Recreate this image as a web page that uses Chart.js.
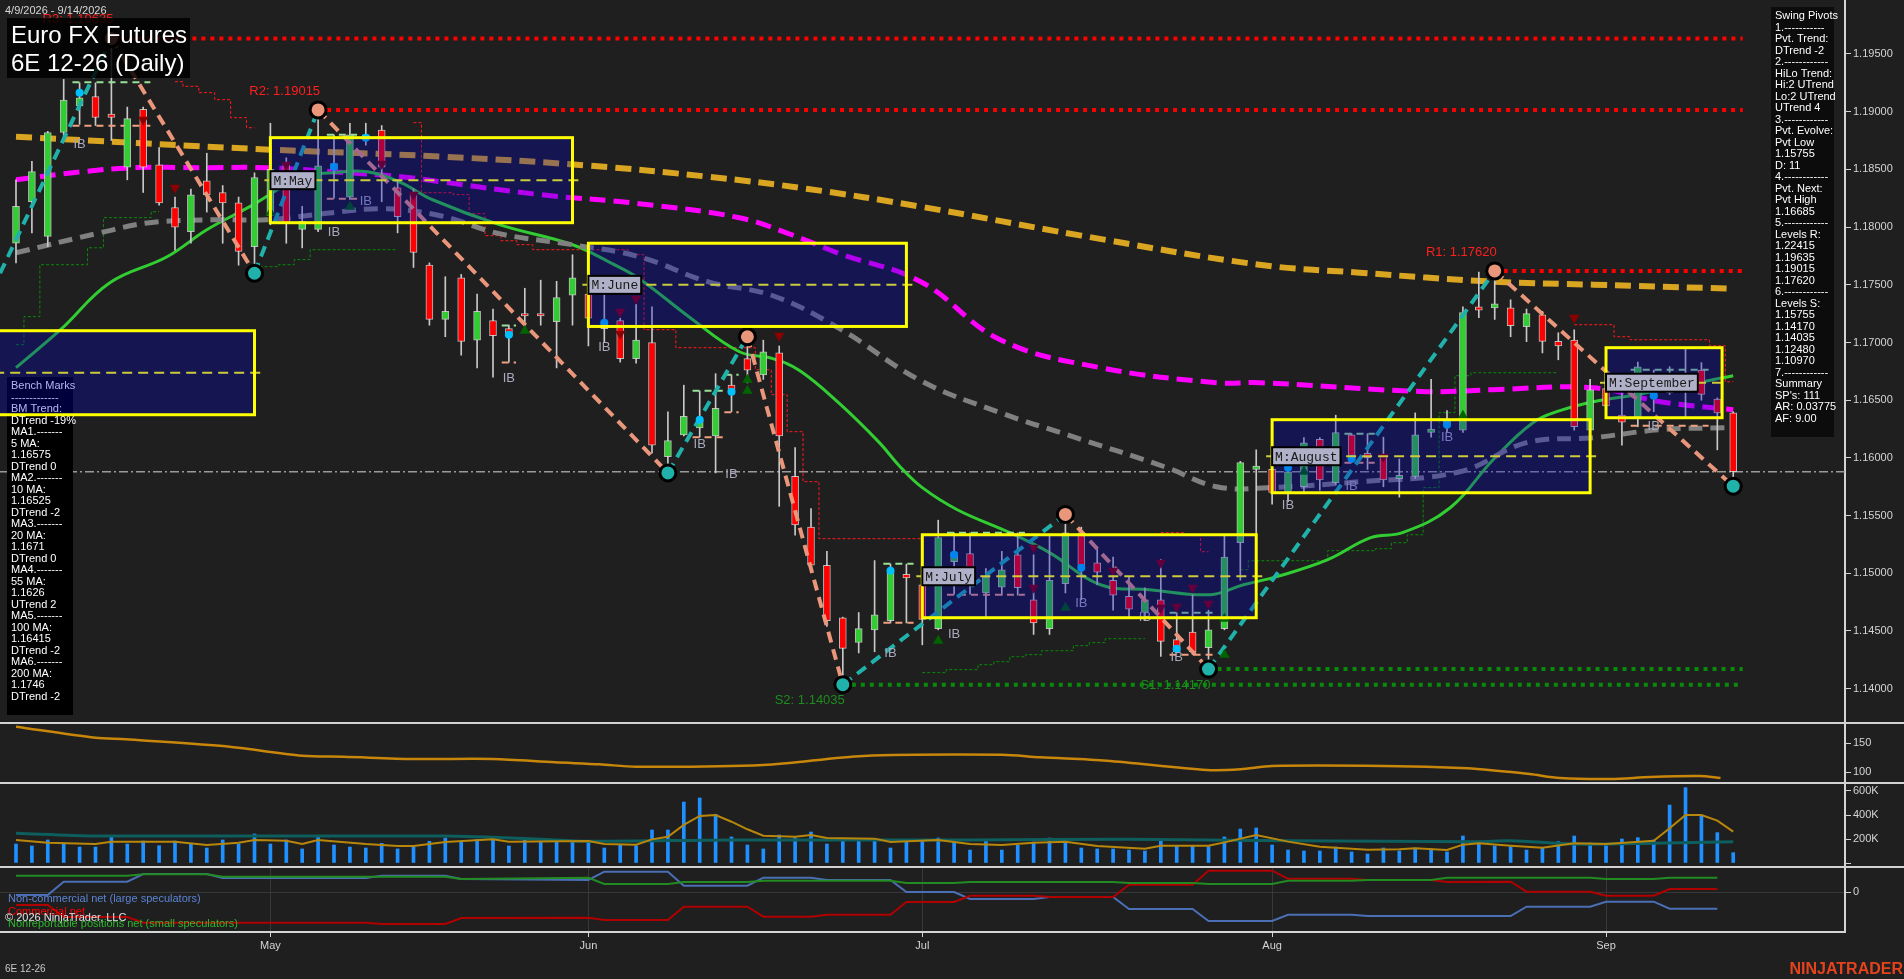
<!DOCTYPE html>
<html>
<head>
<meta charset="utf-8">
<title>Euro FX Futures 6E 12-26 (Daily)</title>
<script src="https://cdn.jsdelivr.net/npm/chart.js@4.4.1/dist/chart.umd.min.js"></script>
<style>
  html, body { margin: 0; padding: 0; background: #1f1f1f; overflow: hidden; }
  #wrap { position: relative; width: 1904px; height: 979px; background: #1f1f1f; }
  canvas { position: absolute; left: 0; }
</style>
</head>
<body>
<div id="wrap">
  <canvas id="price" width="1904" height="722" style="top:0px"></canvas>
  <canvas id="osc" width="1904" height="60" style="top:722px"></canvas>
  <canvas id="vol" width="1904" height="84" style="top:782px"></canvas>
  <canvas id="cot" width="1904" height="113" style="top:866px"></canvas>
</div>
<script>
// ---- bars are numbered 0..108 (4/9/2026 .. 9/14/2026, trading days) ----
const monthTickBars = [16, 36, 57, 79, 100];
const monthTickLabels = ['May', 'Jun', 'Jul', 'Aug', 'Sep'];
const priceTicks = [1.140, 1.145, 1.150, 1.155, 1.160, 1.165, 1.170, 1.175, 1.180, 1.185, 1.190, 1.195];

const barOpen = [1.1786,1.1822,1.1792,1.1882,1.1905,1.1913,1.1898,1.1852,1.1902,1.1854,
  1.1817,1.1796,1.1840,1.1830,1.1821,1.1783,1.1810,1.1855,1.1798,1.1798,
  1.1855,1.1826,1.1878,1.1884,1.1834,1.1830,1.1767,1.1720,1.1756,1.1702,
  1.1719,1.1712,1.1725,1.1725,1.1718,1.1741,1.1742,1.1718,1.1719,1.1686,
  1.1700,1.1601,1.1620,1.1626,1.1619,1.1663,1.1686,1.1672,1.1691,1.1584,
  1.1540,1.1507,1.14615,1.1440,1.1451,1.1459,1.1499,1.1490,1.1452,1.1510,
  1.1517,1.1483,1.1488,1.1516,1.1477,1.1452,1.1491,1.1535,1.1509,1.1494,
  1.1480,1.1466,1.1477,1.14425,1.1449,1.14355,1.1452,1.15265,1.1590,1.1590,
  1.1570,1.1575,1.1616,1.15785,1.1620,1.1604,1.1603,1.1582,1.1584,1.1622,
  1.1628,1.1624,1.1731,1.1730,1.1730,1.17137,1.1724,1.1701,1.1702,1.1624,
  1.1660,1.1637,1.1635,1.1672,1.16565,1.1668,1.1676,1.1651,1.1639];
const barHigh = [1.1841,1.1857,1.1883,1.1928,1.1925,1.1925,1.19635,1.1904,1.1904,1.1869,
  1.1826,1.1833,1.1864,1.1836,1.1826,1.1847,1.1890,1.1860,1.1818,1.19015,
  1.1880,1.1890,1.1890,1.1888,1.1841,1.1833,1.1769,1.1757,1.1759,1.1742,
  1.1729,1.1715,1.1747,1.1754,1.1753,1.1776,1.1760,1.1742,1.1721,1.1733,
  1.1731,1.1640,1.1663,1.1658,1.1673,1.1672,1.1705,1.1702,1.1697,1.1609,
  1.1556,1.1519,1.1462,1.1466,1.1511,1.1508,1.1508,1.1529,1.1546,1.1535,
  1.1535,1.1504,1.1519,1.1535,1.1516,1.1533,1.1551,1.1540,1.1522,1.1514,
  1.1497,1.14875,1.1512,1.1466,1.14815,1.1468,1.1532,1.1597,1.1607,1.1600,
  1.1592,1.16175,1.16175,1.1637,1.1621,1.1621,1.1618,1.1599,1.1639,1.1668,
  1.1641,1.1731,1.1761,1.1762,1.1737,1.1729,1.1727,1.17085,1.1711,1.1668,
  1.1690,1.16565,1.1683,1.1676,1.1679,1.16955,1.16825,1.1652,1.1640];
const barLow = [1.1769,1.1795,1.1783,1.1878,1.1889,1.1888,1.1875,1.1841,1.1830,1.1819,
  1.1780,1.1786,1.1813,1.1786,1.1767,1.1760,1.1802,1.1786,1.1782,1.1796,
  1.1825,1.1824,1.1871,1.1822,1.1795,1.1765,1.1715,1.1705,1.1689,1.1678,
  1.1670,1.1683,1.1714,1.1715,1.1678,1.1715,1.1697,1.1700,1.1683,1.1682,
  1.1604,1.1587,1.1619,1.1618,1.1587,1.1640,1.1665,1.1668,1.1558,1.1533,
  1.1503,1.1454,1.14035,1.1431,1.1432,1.1457,1.1457,1.1438,1.1451,1.1482,
  1.1482,1.1462,1.1481,1.1481,1.1447,1.1447,1.1483,1.1477,1.1490,1.1468,
  1.1462,1.1460,1.1428,1.1431,1.14295,1.1417,1.1451,1.1494,1.1494,1.1560,
  1.1562,1.1570,1.1572,1.1577,1.1596,1.1590,1.1575,1.1566,1.1582,1.1618,
  1.1622,1.1622,1.17215,1.1720,1.1705,1.17007,1.1691,1.1685,1.1624,1.1616,
  1.1635,1.1611,1.1627,1.1640,1.1655,1.1635,1.1650,1.1607,1.15755];
const barClose = [1.1818,1.1848,1.1882,1.1910,1.1912,1.1895,1.1895,1.1894,1.1852,1.1821,
  1.1800,1.1828,1.1828,1.1821,1.1779,1.1843,1.1850,1.1803,1.1805,1.1853,
  1.1850,1.1880,1.1880,1.1852,1.1809,1.1778,1.1720,1.1727,1.1701,1.1727,
  1.1706,1.1706,1.1723,1.1723,1.1739,1.1756,1.1721,1.1712,1.1686,1.1702,
  1.1611,1.1615,1.1636,1.1633,1.1643,1.1656,1.1676,1.1692,1.1619,1.1542,
  1.1507,1.1459,1.1435,1.1452,1.1464,1.1502,1.1496,1.1460,1.1531,1.1518,
  1.1497,1.1497,1.1503,1.14875,1.1457,1.1494,1.1535,1.1506,1.1501,1.1481,
  1.1469,1.1477,1.1441,1.1432,1.1432,1.1451,1.1514,1.1596,1.1593,1.1570,
  1.1588,1.1613,1.1581,1.1622,1.1598,1.1600,1.1581,1.1585,1.1620,1.1625,
  1.1632,1.1726,1.1728,1.17336,1.17146,1.1725,1.1701,1.1697,1.1627,1.1659,
  1.1645,1.1631,1.1679,1.1653,1.1672,1.1672,1.1655,1.1639,1.1588];
const lastPrice = 1.1588;

// moving averages, [bar, price]
const ma200 = [[0,1.18783],[16,1.18671],[26.9,1.18610],[36.1,1.18532],[43.5,1.18437],[49.7,1.18333],
  [56.9,1.18177],[67,1.17926],[78.2,1.17674],[84.5,1.17605],[92.9,1.17527],[99.2,1.17501],[108,1.17466]];
const ma100 = [[0,1.18411],[4.2,1.18480],[7.4,1.18515],[11.6,1.18515],[15.8,1.18515],[19.9,1.18480],
  [24.2,1.18437],[26.7,1.18393],[33,1.18281],[39.2,1.18203],[45.5,1.18081],[48.7,1.17938],[51.8,1.17770],
  [56.9,1.17527],[61.9,1.17024],[68.2,1.16782],[75.5,1.16652],[78.2,1.16652],[88.7,1.16574],[92.9,1.16591],
  [99.2,1.16608],[103.4,1.16487],[108,1.16418]];
const ma55 = [[0,1.17778],[5.3,1.17951],[8.4,1.18038],[12.6,1.18064],[15.8,1.18064],[19.9,1.18125],
  [23.1,1.18159],[26.7,1.18098],[30.4,1.17943],[35,1.17847],[39.2,1.17743],[43.5,1.17527],[47.6,1.17405],
  [51.8,1.17120],[56.9,1.16669],[61.9,1.16392],[66.1,1.16201],[72.4,1.15915],[75.5,1.15750],[78.7,1.15742],
  [84.5,1.15794],[90.8,1.15880],[95,1.16132],[99.2,1.16175],[103.4,1.16244],[108,1.16262]];
const ma20 = [[0,1.16782],[2.8,1.17111],[5.9,1.17518],[9.5,1.17743],[12,1.17977],[14.7,1.18177],
  [17.9,1.18428],[19.9,1.18471],[22.1,1.18480],[24.2,1.18385],[26.2,1.18237],[30.4,1.18021],[35,1.17847],
  [37.5,1.17683],[39.2,1.17553],[42.4,1.17215],[45.5,1.16920],[47.6,1.16860],[49.3,1.16756],[51.8,1.16470],
  [54.3,1.16132],[55.6,1.15924],[57,1.15742],[59.2,1.15551],[62.5,1.15352],[65,1.15179],[68.2,1.14901],
  [71.3,1.14858],[75.1,1.14815],[77.2,1.14901],[79.3,1.14971],[82.5,1.15118],[85.2,1.15309],[87.2,1.15352],
  [90.2,1.15568],[92.9,1.15984],[95.4,1.16305],[97.1,1.16409],[99.2,1.16487],[101.9,1.16548],[108,1.16712]];

// trailing stop steps (null = break)
const trailUp = [[0,1.16981],[1,1.17224],[2,1.17674],[3,1.17674],[4,1.17674],[5,1.17821],[6,1.18082],[7,1.18082],[8,1.18082],[9,1.18133],null,
  [15,1.17657],[16,1.17657],[17,1.17674],[18,1.17718],[19,1.17804],[20,1.17804],[21,1.17804],[22,1.17804],[23,1.17804],[24,1.17804],null,
  [57,1.14139],[58,1.14139],[59,1.14165],[60,1.14165],[61,1.14208],[62,1.14234],[63,1.14277],[64,1.14295],[65,1.14329],[66,1.14329],
  [67,1.14373],[68,1.14399],[69,1.14433],[70,1.14433],[71,1.14433],null,
  [77,1.15031],[78,1.15109],[79,1.15109],[80,1.15109],[81,1.15109],[82,1.15109],[83,1.15196],[84,1.15196],[85,1.15196],[86,1.15213],
  [87,1.15265],[88,1.15334],[89,1.15742],[90,1.16392],[91,1.16712],[92,1.16738],[93,1.16738],[94,1.16738],[95,1.16738],[96,1.16738],[97,1.16738]];
const trailDown = [[10,1.19260],[11,1.19220],[12,1.19165],[13,1.19104],[14,1.18948],[15,1.18861],null,
  [25,1.18905],[26,1.18298],[27,1.18298],[28,1.18281],[29,1.18116],[30,1.17926],[31,1.17882],[32,1.17848],[33,1.17804],[34,1.17804],
  [35,1.17804],[36,1.17804],[37,1.17804],[38,1.17804],[39,1.17761],[40,1.17111],[41,1.17111],[42,1.16955],[43,1.16955],[44,1.16955],
  [45,1.16955],[46,1.16955],[47,1.16764],[48,1.16548],[49,1.16227],[50,1.15794],[51,1.15300],[52,1.15300],[53,1.15300],[54,1.15300],
  [55,1.15300],[56,1.15300],[57,1.15300],null,
  [72,1.15352],[73,1.15352],[74,1.15326],[75,1.15187],null,
  [98,1.17154],[99,1.17154],[100,1.17154],[101,1.17050],[102,1.17024],[103,1.17024],[104,1.17024],[105,1.17024],[106,1.17024],[107,1.16972],[108,1.16660]];

// swing pivots
const zigBars = [-1, 6, 15, 19, 41, 46, 52, 66, 75, 93, 108];
const zigPrices = [1.1760, 1.19635, 1.1760, 1.19015, 1.1587, 1.1705, 1.14035, 1.1551, 1.1417, 1.1762, 1.15755];
const levelNames = ['R3', 'R2', 'R1', 'S2', 'S1'];
const levelValues = [1.19635, 1.19015, 1.17620, 1.14035, 1.14170];
const levelFrom = [6, 19, 93, 52, 75];
const levelTo = 108.6;

// signal markers [bar, price]
const sigDown = [[8,1.18931],[10,1.18341],[17,1.18541],[23,1.18550],[25,1.18281],[38,1.17267],[38,1.17076],[39,1.17380],
  [48,1.17059],[64,1.15222],[64,1.14875],[69,1.15023],[72,1.15092],[72,1.14702],[73,1.14711],[74,1.14875],[75,1.14737],
  [86,1.16010],[98,1.17215]];
const sigUp = [[16,1.18125],[21,1.18177],[32,1.17102],[46,1.16678],[46,1.16582],[58,1.14416],[66,1.14702],[76,1.14607],
  [76,1.14295],[81,1.15880],[91,1.16366]];
const sigDots = [[4,1.19165],[20,1.18523],[22,1.18775],[31,1.17068],[37,1.17172],[43,1.16331],[45,1.16574],[55,1.15023],
  [59,1.15161],[67,1.15049],[73,1.14347],[80,1.15915],[84,1.15993],[90,1.16288],[103,1.16539]];

// inside-bar ranges: start bar, end bar, high, low
const ibStart = [4, 20, 31, 43, 45, 55, 59, 73, 84, 102];
const ibEnd = [8, 21, 31, 44, 45, 56, 63, 75, 85, 106];
const ibHigh = [1.19255, 1.18801, 1.17148, 1.16582, 1.16721, 1.15083, 1.15352, 1.14659, 1.16210, 1.16764];
const ibLow = [1.18879, 1.18246, 1.16826, 1.16179, 1.16396, 1.14572, 1.14815, 1.14295, 1.15958, 1.16279];
const ibLabelBars = [4, 20, 22, 31, 37, 43, 45, 55, 59, 67, 71, 73, 80, 84, 90, 103];
const ibLabelPrices = [1.18714, 1.17951, 1.18220, 1.16686, 1.16955, 1.16114, 1.15854, 1.14307, 1.14468, 1.14737,
  1.14615, 1.14269, 1.15586, 1.15750, 1.16175, 1.16270];

// monthly boxes
const monthLabels = ['M:April', 'M:May', 'M:June', 'M:July', 'M:August', 'M:September'];
const monthStart = [-2, 16, 36, 57, 79, 100];
const monthEnd = [15, 35, 56, 78, 99, 107.3];
const monthHigh = [1.17102, 1.18775, 1.17860, 1.15334, 1.16331, 1.16955];
const monthLow = [1.16374, 1.18038, 1.17139, 1.14615, 1.15698, 1.16348];

// lower panels
const oscLine = [[0,178],[5,159],[6.9,156.4],[13,144.8],[18,128.1],[20.6,126.4],[25,122.4],[30,122.4],[33.9,116.7],
  [36.7,113.3],[39,109],[47,112],[53.3,127.6],[62,129.8],[64.4,125.3],[68.6,119.5],[74.9,103.4],[77,104.6],[79,110.3],
  [86,110.3],[91.3,106.4],[93.3,101.7],[95.2,96.6],[97.1,89.7],[100.3,87.9],[102.8,91.4],[105.9,93],[107.2,89.7]];
const oscTicks = [100, 150];
const volume = [158,142,192,169,133,133,228,158,183,144,183,158,125,192,158,242,158,192,117,225,
  150,133,125,164,117,147,181,208,175,197,197,142,192,175,175,175,186,125,150,144,
  275,275,508,542,406,217,150,117,233,211,258,158,197,186,200,125,192,186,208,178,
  108,183,108,147,175,208,192,125,117,117,108,100,183,142,142,136,217,283,292,150,
  108,100,100,133,92,75,125,100,125,117,92,225,183,142,136,108,125,178,225,167,
  144,200,211,192,483,628,400,253,86];
const volFast = [[0,192],[2,169],[5,158],[6,178],[10,178],[12,150],[14,169],[15,192],[17,186],[18,158],[19,192],
  [22,158],[24,142],[25,142],[27,175],[30,197],[31,178],[36,183],[37,158],[39,153],[40,197],[41,219],[42,317],
  [43,392],[44,400],[45,344],[46,281],[47,228],[49,219],[50,233],[51,208],[54,203],[55,175],[58,192],[60,158],
  [62,150],[64,169],[66,178],[68,142],[71,119],[72,144],[75,144],[76,172],[78,233],[80,178],[82,136],[85,111],
  [87,114],[88,122],[90,108],[91,153],[92,164],[94,144],[95,136],[96,128],[98,164],[100,158],[103,186],[104,289],
  [105,400],[106,400],[107,353],[108,261]];
const volSlow = [[0,247],[5,225],[27,225],[30,214],[33,197],[36,181],[45,192],[60,192],[70,197],[80,186],[92,178],
  [94,186],[98,158],[103,164],[108,178]];
const volTicks = [0, 200, 400, 600];
const volTickLabels = ['', '200K', '400K', '600K'];
const cotLarge = [[0,-7.5],[2,-7.5],[3,25.75],[7,25.75],[8,45],[12,45],[13,35],[22,35],[23,40.75],[27,40.75],[28,32.5],
  [36,30],[37,50.75],[41,50.75],[42,15.75],[46,15.75],[47,35.75],[50,35.75],[51,30],[55,30],[56,0],[59,0],[60,-17.5],
  [64,-17.5],[65,-12.5],[69,-12.5],[70,-42.5],[74,-42.5],[75,-72.5],[79,-72.5],[80,-56.75],[84,-56.75],[85,-60],
  [94,-60],[95,-36.75],[99,-36.75],[100,-24.25],[103,-24.25],[104,-41.75],[107,-41.75]];
const cotCommercial = [[0,-32.5],[2,-32.5],[3,-62.5],[7,-62.5],[8,-76.75],[22,-76.75],[23,-80],[27,-80],[28,-65],
  [36,-64.25],[37,-70],[41,-70],[42,-36.75],[46,-36.75],[47,-61.75],[50,-61.75],[51,-56.75],[55,-56.75],[56,-25],
  [59,-25],[60,-9.25],[64,-9.25],[65,-12.5],[69,-12.5],[70,18.25],[74,18.25],[75,53.25],[79,53.25],[80,33.25],
  [84,33.25],[85,30],[89,30],[90,25],[94,25.75],[95,0.75],[99,0.75],[100,-9.25],[103,-9.25],[104,7.5],[107,7.5]];
const cotSmall = [[0,40.75],[7,40.75],[8,44.25],[12,44.25],[13,38.25],[27,38.25],[28,32.5],[36,35.75],[37,20],[41,20],
  [42,25],[46,25],[47,28.25],[55,28.25],[56,22.5],[59,22.5],[60,25],[69,25],[70,22.5],[74,22.5],[75,20],[79,20],
  [80,28.25],[84,28.25],[85,30],[89,30],[90,35.75],[99,35.75],[100,32.5],[103,32.5],[104,35.75],[107,35.75]];

const swingLines = ['Swing Pivots', '1.-----------', 'Pvt. Trend:', 'DTrend -2', '2.------------', 'HiLo Trend:',
  'Hi:2 UTrend', 'Lo:2 UTrend', 'UTrend 4', '3.------------', 'Pvt. Evolve:', 'Pvt Low', '1.15755', 'D: 11',
  '4.------------', 'Pvt. Next:', 'Pvt High', '1.16685', '5.------------', 'Levels R:', '1.22415', '1.19635',
  '1.19015', '1.17620', '6.------------', 'Levels S:', '1.15755', '1.14170', '1.14035', '1.12480', '1.10970',
  '7.------------', 'Summary', "SP's: 111", 'AR: 0.03775', 'AF: 9.00'];
const benchLines = ['Bench Marks', '-------------', 'BM Trend:', 'DTrend -19%', 'MA1.-------', '5 MA:', '1.16575',
  'DTrend 0', 'MA2.-------', '10 MA:', '1.16525', 'DTrend -2', 'MA3.-------', '20 MA:', '1.1671', 'DTrend 0',
  'MA4.-------', '55 MA:', '1.1626', 'UTrend 2', 'MA5.-------', '100 MA:', '1.16415', 'DTrend -2', 'MA6.-------',
  '200 MA:', '1.1746', 'DTrend -2'];

// ---------------------------------------------------------------
const family = 'Liberation Sans, Arial, Helvetica, sans-serif';
Chart.defaults.font.family = family;
Chart.defaults.animation = false;
Chart.defaults.responsive = false;
Chart.defaults.devicePixelRatio = 1;
Chart.defaults.events = [];
Chart.defaults.plugins.legend.display = false;
Chart.defaults.plugins.tooltip.enabled = false;

const xMin = -1.006, xMax = 115.03;
const pts = arr => arr.map(([x, y]) => ({x, y}));
const withGaps = arr => {
  const out = [];
  let last = 0;
  arr.forEach(p => {
    if (p === null) out.push({x: last + 0.5, y: null});
    else { out.push({x: p[0], y: p[1]}); last = p[0]; }
  });
  return out;
};
const noPad = s => { s.paddingTop = 0; s.paddingBottom = 0; s.paddingLeft = 0; s.paddingRight = 0; };
const layout = { padding: 0, autoPadding: false };

function xScale(show) {
  return {
    type: 'linear', min: xMin, max: xMax, display: show, offset: false,
    afterBuildTicks: sc => { sc.ticks = monthTickBars.map(v => ({value: v})); },
    ticks: { callback: (v, i) => monthTickLabels[i], color: '#d4d4d4', font: {size: 11}, maxRotation: 0, autoSkip: false, padding: 2 },
    grid: { color: '#383838', offset: false, tickLength: 5, tickColor: '#d4d4d4' },
    border: { display: true, color: '#d4d4d4', width: 2 },
    afterFit: sc => { noPad(sc); if (show) sc.height = 47; }
  };
}
function yScale(min, max, tickVals, fmt, gridOnArea) {
  return {
    position: 'right', min, max, beginAtZero: false,
    afterBuildTicks: s => { s.ticks = tickVals.map(v => ({value: v})); },
    ticks: { callback: fmt, color: '#d4d4d4', font: {size: 11}, padding: 2, autoSkip: false },
    grid: { drawOnChartArea: !!gridOnArea, color: '#383838', tickLength: 6, tickColor: '#d4d4d4' },
    border: { display: true, color: '#d4d4d4', width: 2 },
    afterFit: s => { noPad(s); s.width = 59; }
  };
}
const separator = {
  id: 'separator',
  afterDraw(chart) {
    chart.ctx.fillStyle = '#d2d2d2';
    chart.ctx.fillRect(0, 0, chart.width, 2);
  }
};

// ---------- price panel ----------
const wicks = barHigh.map((h, i) => ({x: i, y: [barLow[i], h]}));
const bodies = barOpen.map((o, i) => ({x: i, y: [o, barClose[i]]}));
const isUp = i => barClose[i] >= barOpen[i];

function ibPoints(vals) {
  const out = [];
  ibStart.forEach((s, k) => {
    out.push({x: s - 0.45, y: vals[k]}, {x: ibEnd[k] + 0.45, y: vals[k]}, {x: ibEnd[k] + 0.5, y: null});
  });
  return out;
}
const zig = zigBars.map((b, i) => ({x: b, y: zigPrices[i]}));
const pivots = zig.slice(1);
const pivotHigh = pivots.map((p, i) => p.y > zig[i].y);

const levelSets = levelNames.map((n, i) => ({
  type: 'line', order: 5,
  data: [{x: levelFrom[i], y: levelValues[i]}, {x: levelTo, y: levelValues[i]}],
  borderColor: n[0] === 'R' ? '#ff0000' : '#0a8a0a', borderWidth: 4, borderDash: [4, 5], pointRadius: 0
}));

const overlay = {
  id: 'overlay',
  afterDatasetsDraw(chart) {
    const {ctx, scales} = chart;
    const X = v => scales.x.getPixelForValue(v);
    const Y = v => scales.y.getPixelForValue(v);
    ctx.save();
    ctx.textBaseline = 'middle';

    ctx.font = '13px ' + family;
    ctx.fillStyle = '#a9a9bd';
    ctx.textAlign = 'center';
    ibLabelBars.forEach((b, i) => ctx.fillText('IB', X(b), Y(ibLabelPrices[i])));

    ctx.textAlign = 'right';
    levelNames.forEach((n, i) => {
      const res = n[0] === 'R';
      ctx.fillStyle = res ? '#ff1f1f' : '#1e8c1e';
      ctx.fillText(n + ': ' + levelValues[i].toFixed(5), X(levelFrom[i]) + 2, Y(levelValues[i]) + (res ? -19 : 16));
    });

    // bench marks box
    ctx.fillStyle = '#000';
    ctx.fillRect(7, 377, 66, 338);
    ctx.font = '11px ' + family;
    ctx.fillStyle = '#ffffff';
    ctx.textAlign = 'left';
    benchLines.forEach((t, i) => ctx.fillText(t, 11, 386 + i * 11.5));

    // month boxes
    monthLabels.forEach((lab, i) => {
      const x1 = X(monthStart[i]), x2 = X(monthEnd[i]);
      const y1 = Y(monthHigh[i]), y2 = Y(monthLow[i]);
      const ym = Y((monthHigh[i] + monthLow[i]) / 2);
      ctx.fillStyle = 'rgba(0,0,200,0.3)';
      ctx.fillRect(x1, y1, x2 - x1, y2 - y1);
      ctx.setLineDash([10, 6]);
      ctx.strokeStyle = '#cccc3c';
      ctx.lineWidth = 2;
      ctx.beginPath(); ctx.moveTo(x1 - 6, ym); ctx.lineTo(x2 + 6, ym); ctx.stroke();
      ctx.setLineDash([]);
      ctx.strokeStyle = '#ffff00';
      ctx.lineWidth = 3;
      ctx.strokeRect(x1, y1, x2 - x1, y2 - y1);
      if (monthStart[i] < xMin) return;
      ctx.font = '13px Liberation Mono, monospace';
      const w = ctx.measureText(lab).width + 6;
      ctx.fillStyle = '#b0b0c8';
      ctx.fillRect(x1, ym - 9, w, 18);
      ctx.lineWidth = 2;
      ctx.strokeStyle = '#000';
      ctx.strokeRect(x1, ym - 9, w, 18);
      ctx.fillStyle = '#1a1a1a';
      ctx.fillText(lab, x1 + 3, ym + 1);
    });

    // title
    ctx.fillStyle = 'rgba(0,0,0,0.85)';
    ctx.fillRect(7, 18, 183, 60);
    ctx.fillStyle = '#ffffff';
    ctx.font = '24px ' + family;
    ctx.fillText('Euro FX Futures', 11, 36);
    ctx.fillText('6E 12-26 (Daily)', 11, 64);
    ctx.font = '11px ' + family;
    ctx.fillStyle = '#d8d8d8';
    ctx.fillText('4/9/2026 - 9/14/2026', 5, 11);

    // swing pivots box
    ctx.fillStyle = '#0c0c0c';
    ctx.fillRect(1771, 7, 63, 430);
    ctx.fillStyle = '#ffffff';
    swingLines.forEach((t, i) => ctx.fillText(t, 1775, 16 + i * 11.5));
    ctx.restore();
  }
};

new Chart(document.getElementById('price'), {
  type: 'line',
  data: {
    datasets: [
      { type: 'line', order: 9, data: withGaps(trailUp), borderColor: '#0a8a0a', borderWidth: 1, borderDash: [3, 2], stepped: 'middle', pointRadius: 0, spanGaps: false },
      { type: 'line', order: 9, data: withGaps(trailDown), borderColor: '#ff1a1a', borderWidth: 1, borderDash: [3, 2], stepped: 'middle', pointRadius: 0, spanGaps: false },
      { type: 'line', order: 9, data: [{x: xMin, y: lastPrice}, {x: xMax, y: lastPrice}], borderColor: '#9a9a9a', borderWidth: 1.5, borderDash: [9, 3, 2, 3], pointRadius: 0 },
      { type: 'line', order: 8, data: pts(ma200), borderColor: '#daa520', borderWidth: 6, borderDash: [16, 8], pointRadius: 0, tension: 0.4 },
      { type: 'line', order: 7, data: pts(ma100), borderColor: '#ff00ff', borderWidth: 5, borderDash: [16, 8], pointRadius: 0, tension: 0.4 },
      { type: 'line', order: 6, data: pts(ma55), borderColor: '#808080', borderWidth: 5, borderDash: [14, 8], pointRadius: 0, tension: 0.4 },
      { type: 'line', order: 6, data: pts(ma20), borderColor: '#32cd32', borderWidth: 3, pointRadius: 0, tension: 0.4 },
      ...levelSets,
      { type: 'bar', order: 4, data: wicks, backgroundColor: '#c8c8c8', barThickness: 1, grouped: false, borderWidth: 0 },
      { type: 'bar', order: 3, data: bodies, grouped: false, barThickness: 7, minBarLength: 1, borderSkipped: false,
        backgroundColor: c => isUp(c.dataIndex) ? '#32cd32' : '#ff0000', borderColor: 'rgba(215,215,215,0.85)', borderWidth: 1 },
      { type: 'line', order: 3, data: ibPoints(ibHigh), borderColor: '#98e098', borderWidth: 2, borderDash: [7, 5], pointRadius: 0, spanGaps: false },
      { type: 'line', order: 3, data: ibPoints(ibLow), borderColor: '#f0a080', borderWidth: 2, borderDash: [7, 5], pointRadius: 0, spanGaps: false },
      { type: 'line', order: 2, data: zig, borderWidth: 4, borderDash: [11, 7], pointRadius: 0,
        segment: { borderColor: c => c.p1.parsed.y > c.p0.parsed.y ? '#20b2aa' : '#e9967a' } },
      { type: 'line', order: 1, data: pts(sigDown), showLine: false, pointStyle: 'triangle', rotation: 180, pointRadius: 6, pointBackgroundColor: '#8b0000', pointBorderWidth: 0 },
      { type: 'line', order: 1, data: pts(sigUp), showLine: false, pointStyle: 'triangle', pointRadius: 6, pointBackgroundColor: '#006400', pointBorderWidth: 0 },
      { type: 'line', order: 1, data: pts(sigDots), showLine: false, pointRadius: 4, pointBackgroundColor: '#00bfff', pointBorderWidth: 0 },
      { type: 'line', order: 0, data: pivots, showLine: false, pointRadius: 8, pointBorderWidth: 3, pointBorderColor: '#000',
        pointBackgroundColor: pivotHigh.map(h => h ? '#e9967a' : '#20b2aa') }
    ]
  },
  options: {
    layout,
    scales: {
      x: xScale(false),
      y: yScale(1.137114, 1.199679, priceTicks, v => v.toFixed(5))
    }
  },
  plugins: [overlay]
});

// ---------- oscillator panel ----------
new Chart(document.getElementById('osc'), {
  type: 'line',
  data: { datasets: [
    { data: pts(oscLine), borderColor: '#c8860a', borderWidth: 2.5, pointRadius: 0, tension: 0.3 }
  ] },
  options: { layout, scales: { x: xScale(false), y: yScale(82.8, 186.2, oscTicks, v => String(v)) } },
  plugins: [separator]
});

// ---------- volume panel ----------
new Chart(document.getElementById('vol'), {
  type: 'line',
  data: { datasets: [
    { type: 'line', order: 0, data: pts(volFast), borderColor: '#b8860b', borderWidth: 2, pointRadius: 0 },
    { type: 'line', order: 1, data: pts(volSlow), borderColor: '#0e5e5e', borderWidth: 3, pointRadius: 0, tension: 0.3 },
    { type: 'bar', order: 2, data: volume.map((v, i) => ({x: i, y: v})), backgroundColor: '#1e90ff', barThickness: 3 }
  ] },
  options: { layout, scales: { x: xScale(false),
    y: yScale(-25, 675, volTicks, (v, i) => volTickLabels[i]) } },
  plugins: [separator]
});

// ---------- COT panel ----------
const cotText = {
  id: 'cotText',
  afterDraw(chart) {
    const ctx = chart.ctx;
    ctx.save();
    ctx.textBaseline = 'middle';
    ctx.textAlign = 'left';
    ctx.font = '11px ' + family;
    ctx.fillStyle = '#5b84d6'; ctx.fillText('Non-commercial net (large speculators)', 8, 33);
    ctx.fillStyle = '#ff0000'; ctx.fillText('Commercial net', 8, 46);
    ctx.fillStyle = '#e0e0e0'; ctx.fillText('\u00a9 2026 NinjaTrader, LLC', 5, 52);
    ctx.fillStyle = '#2db82d'; ctx.fillText('Nonreportable positions net (small speculators)', 8, 58);
    ctx.font = '10px ' + family;
    ctx.fillStyle = '#c8c8c8'; ctx.fillText('6E 12-26', 5, 103);
    ctx.font = 'bold 16px ' + family;
    ctx.fillStyle = '#e5431d';
    ctx.textAlign = 'right';
    ctx.fillText('NINJATRADER', 1903, 104);
    ctx.restore();
  }
};
new Chart(document.getElementById('cot'), {
  type: 'line',
  data: { datasets: [
    { data: pts(cotSmall), borderColor: '#228b22', borderWidth: 2, pointRadius: 0 },
    { data: pts(cotCommercial), borderColor: '#b00000', borderWidth: 2, pointRadius: 0 },
    { data: pts(cotLarge), borderColor: '#4a6fb5', borderWidth: 2, pointRadius: 0 }
  ] },
  options: { layout, scales: { x: xScale(true),
    y: yScale(-100, 65, [0], v => String(v), true) } },
  plugins: [separator, cotText]
});
</script>
</body>
</html>
